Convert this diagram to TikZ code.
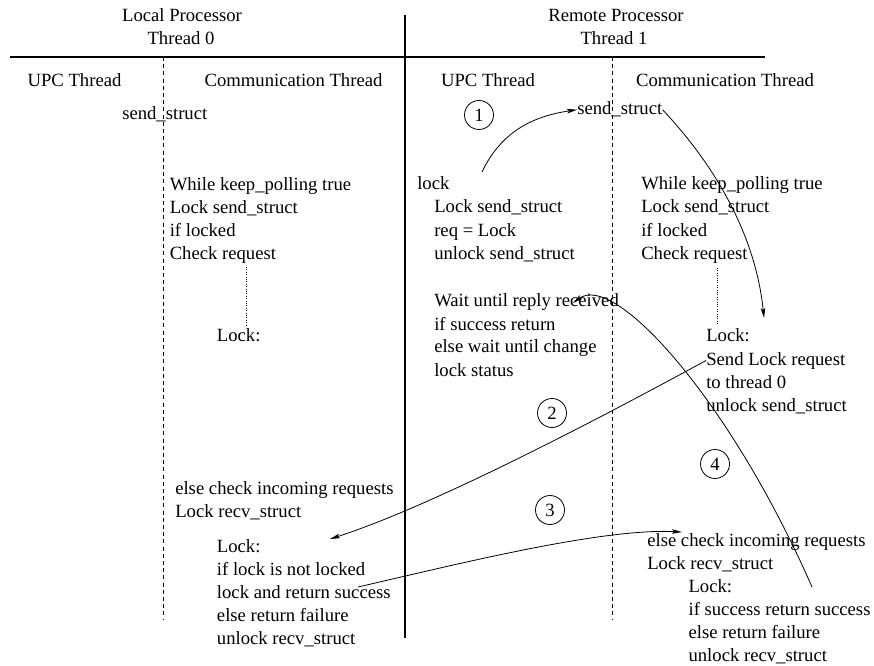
\documentclass[tikz,border=0pt]{standalone}
\usepackage{fontspec}
\setmainfont{Liberation Serif}
\usetikzlibrary{arrows.meta}
\begin{document}
\begin{tikzpicture}[x=0.75pt,y=-0.75pt,
  txt/.style={anchor=base west,inner sep=0pt,font=\fontsize{14}{17}\selectfont},
  ctr/.style={anchor=base,inner sep=0pt,font=\fontsize{14}{17}\selectfont},
  rule/.style={line width=0.8pt},
  lane/.style={line width=0.7pt,dash pattern=on 3pt off 2.4pt},
  trace/.style={line width=0.5pt,dash pattern=on 0.6pt off 1.2pt},
  flow/.style={line width=0.6pt,-{Stealth[length=7.5pt,width=3.4pt,inset=1.5pt]}},
  stepmark/.style={draw,circle,line width=0.6pt,inner sep=0pt,minimum size=21.75pt,font=\fontsize{14}{17}\selectfont}]
\useasboundingbox (0,0) rectangle (874,666);

% frame: header rule, processor divider, thread lanes
\draw[rule] (10,57) -- (765,57);
\draw[rule] (405,15) -- (405,638);
\draw[lane] (163,57) -- (163,620);
\draw[lane] (612,57) -- (612,620);

% headers
\node[ctr] (hl1) at (182,22) {Local Processor};
\node[ctr] (hl2) at (181,45) {Thread 0};
\node[ctr] (hr1) at (616,22) {Remote Processor};
\node[ctr] (hr2) at (614,45) {Thread 1};
\node[ctr] (upcL) at (74.5,87) {UPC Thread};
\node[ctr] (comL) at (293.5,87) {Communication Thread};
\node[ctr] (upcR) at (488,87) {UPC Thread};
\node[ctr] (comR) at (725,87) {Communication Thread};

% shared request structures
\node[txt] (ssL) at (122,120) {send\_struct};
\node[txt] (ssR) at (577,115) {send\_struct};

% thread 0, communication thread
\node[txt] (lw1) at (169.5,190.5) {While keep\_polling true};
\node[txt] (lw2) at (169.5,213.5) {Lock send\_struct};
\node[txt] (lw3) at (169.5,236.5) {if locked};
\node[txt] (lw4) at (169.5,259.5) {Check request};
\node[txt] (lk1) at (216.7,341.7) {Lock:};
\draw[trace] (246.5,267) -- (246.5,325);

\node[txt] (le1) at (175,494) {else check incoming requests};
\node[txt] (le2) at (175,517) {Lock recv\_struct};
\node[txt] (lr1) at (216.7,552) {Lock:};
\node[txt] (lr2) at (216.7,575) {if lock is not locked};
\node[txt] (lr3) at (216.7,598) {lock and return success};
\node[txt] (lr4) at (216.7,621) {else return failure};
\node[txt] (lr5) at (216.7,644) {unlock recv\_struct};

% thread 1, UPC thread
\node[txt] (ul0) at (417,190) {lock};
\node[txt] (ul1) at (434,213) {Lock send\_struct};
\node[txt] (ul2) at (434,236.5) {req = Lock};
\node[txt] (ul3) at (434,260) {unlock send\_struct};
\node[txt] (uw1) at (434,306.5) {Wait until reply received};
\node[txt] (uw2) at (434,330) {if success return};
\node[txt] (uw3) at (434,353) {else wait until change};
\node[txt] (uw4) at (434,376.5) {lock status};

% thread 1, communication thread
\node[txt] (rw1) at (641,190) {While keep\_polling true};
\node[txt] (rw2) at (641,213) {Lock send\_struct};
\node[txt] (rw3) at (641,236.5) {if locked};
\node[txt] (rw4) at (641,260) {Check request};
\draw[trace] (717,268) -- (717,324);
\node[txt] (rs1) at (706,341.7) {Lock:};
\node[txt] (rs2) at (706,365) {Send Lock request};
\node[txt] (rs3) at (706,388) {to thread 0};
\node[txt] (rs4) at (706,411) {unlock send\_struct};

\node[txt] (re1) at (647,546) {else check incoming requests};
\node[txt] (re2) at (647,569) {Lock recv\_struct};
\node[txt] (rr1) at (688.3,592) {Lock:};
\node[txt] (rr2) at (688.3,615) {if success return success};
\node[txt] (rr3) at (688.3,638) {else return failure};
\node[txt] (rr4) at (688.3,661) {unlock recv\_struct};

% step numbers
\node[stepmark] (s1) at (479,115) {1};
\node[stepmark] (s2) at (552,413) {2};
\node[stepmark] (s3) at (550,510) {3};
\node[stepmark] (s4) at (715,464) {4};

% free ends of the message arrows
\coordinate (a1) at (482,172);
\coordinate (b2) at (330,539);
\coordinate (a3) at (358,587);
\coordinate (b3) at (682,532);
\coordinate (a4) at (812,587);
\coordinate (b4) at (573,303);
\coordinate (b1) at (764,318);

% message flow
\draw[flow] (a1) .. controls (502,130) and (535,116) .. (ssR.west);
\draw[flow] (ssR.east) .. controls (710,160) and (755,230) .. (b1);
\draw[flow] (rs2.west) .. controls (560,440) and (420,510) .. (b2);
\draw[flow] (a3) .. controls (450,566) and (600,528) .. (b3);
\draw[flow] (a4) .. controls (730,400) and (615,272) .. (b4);
\end{tikzpicture}
\end{document}
